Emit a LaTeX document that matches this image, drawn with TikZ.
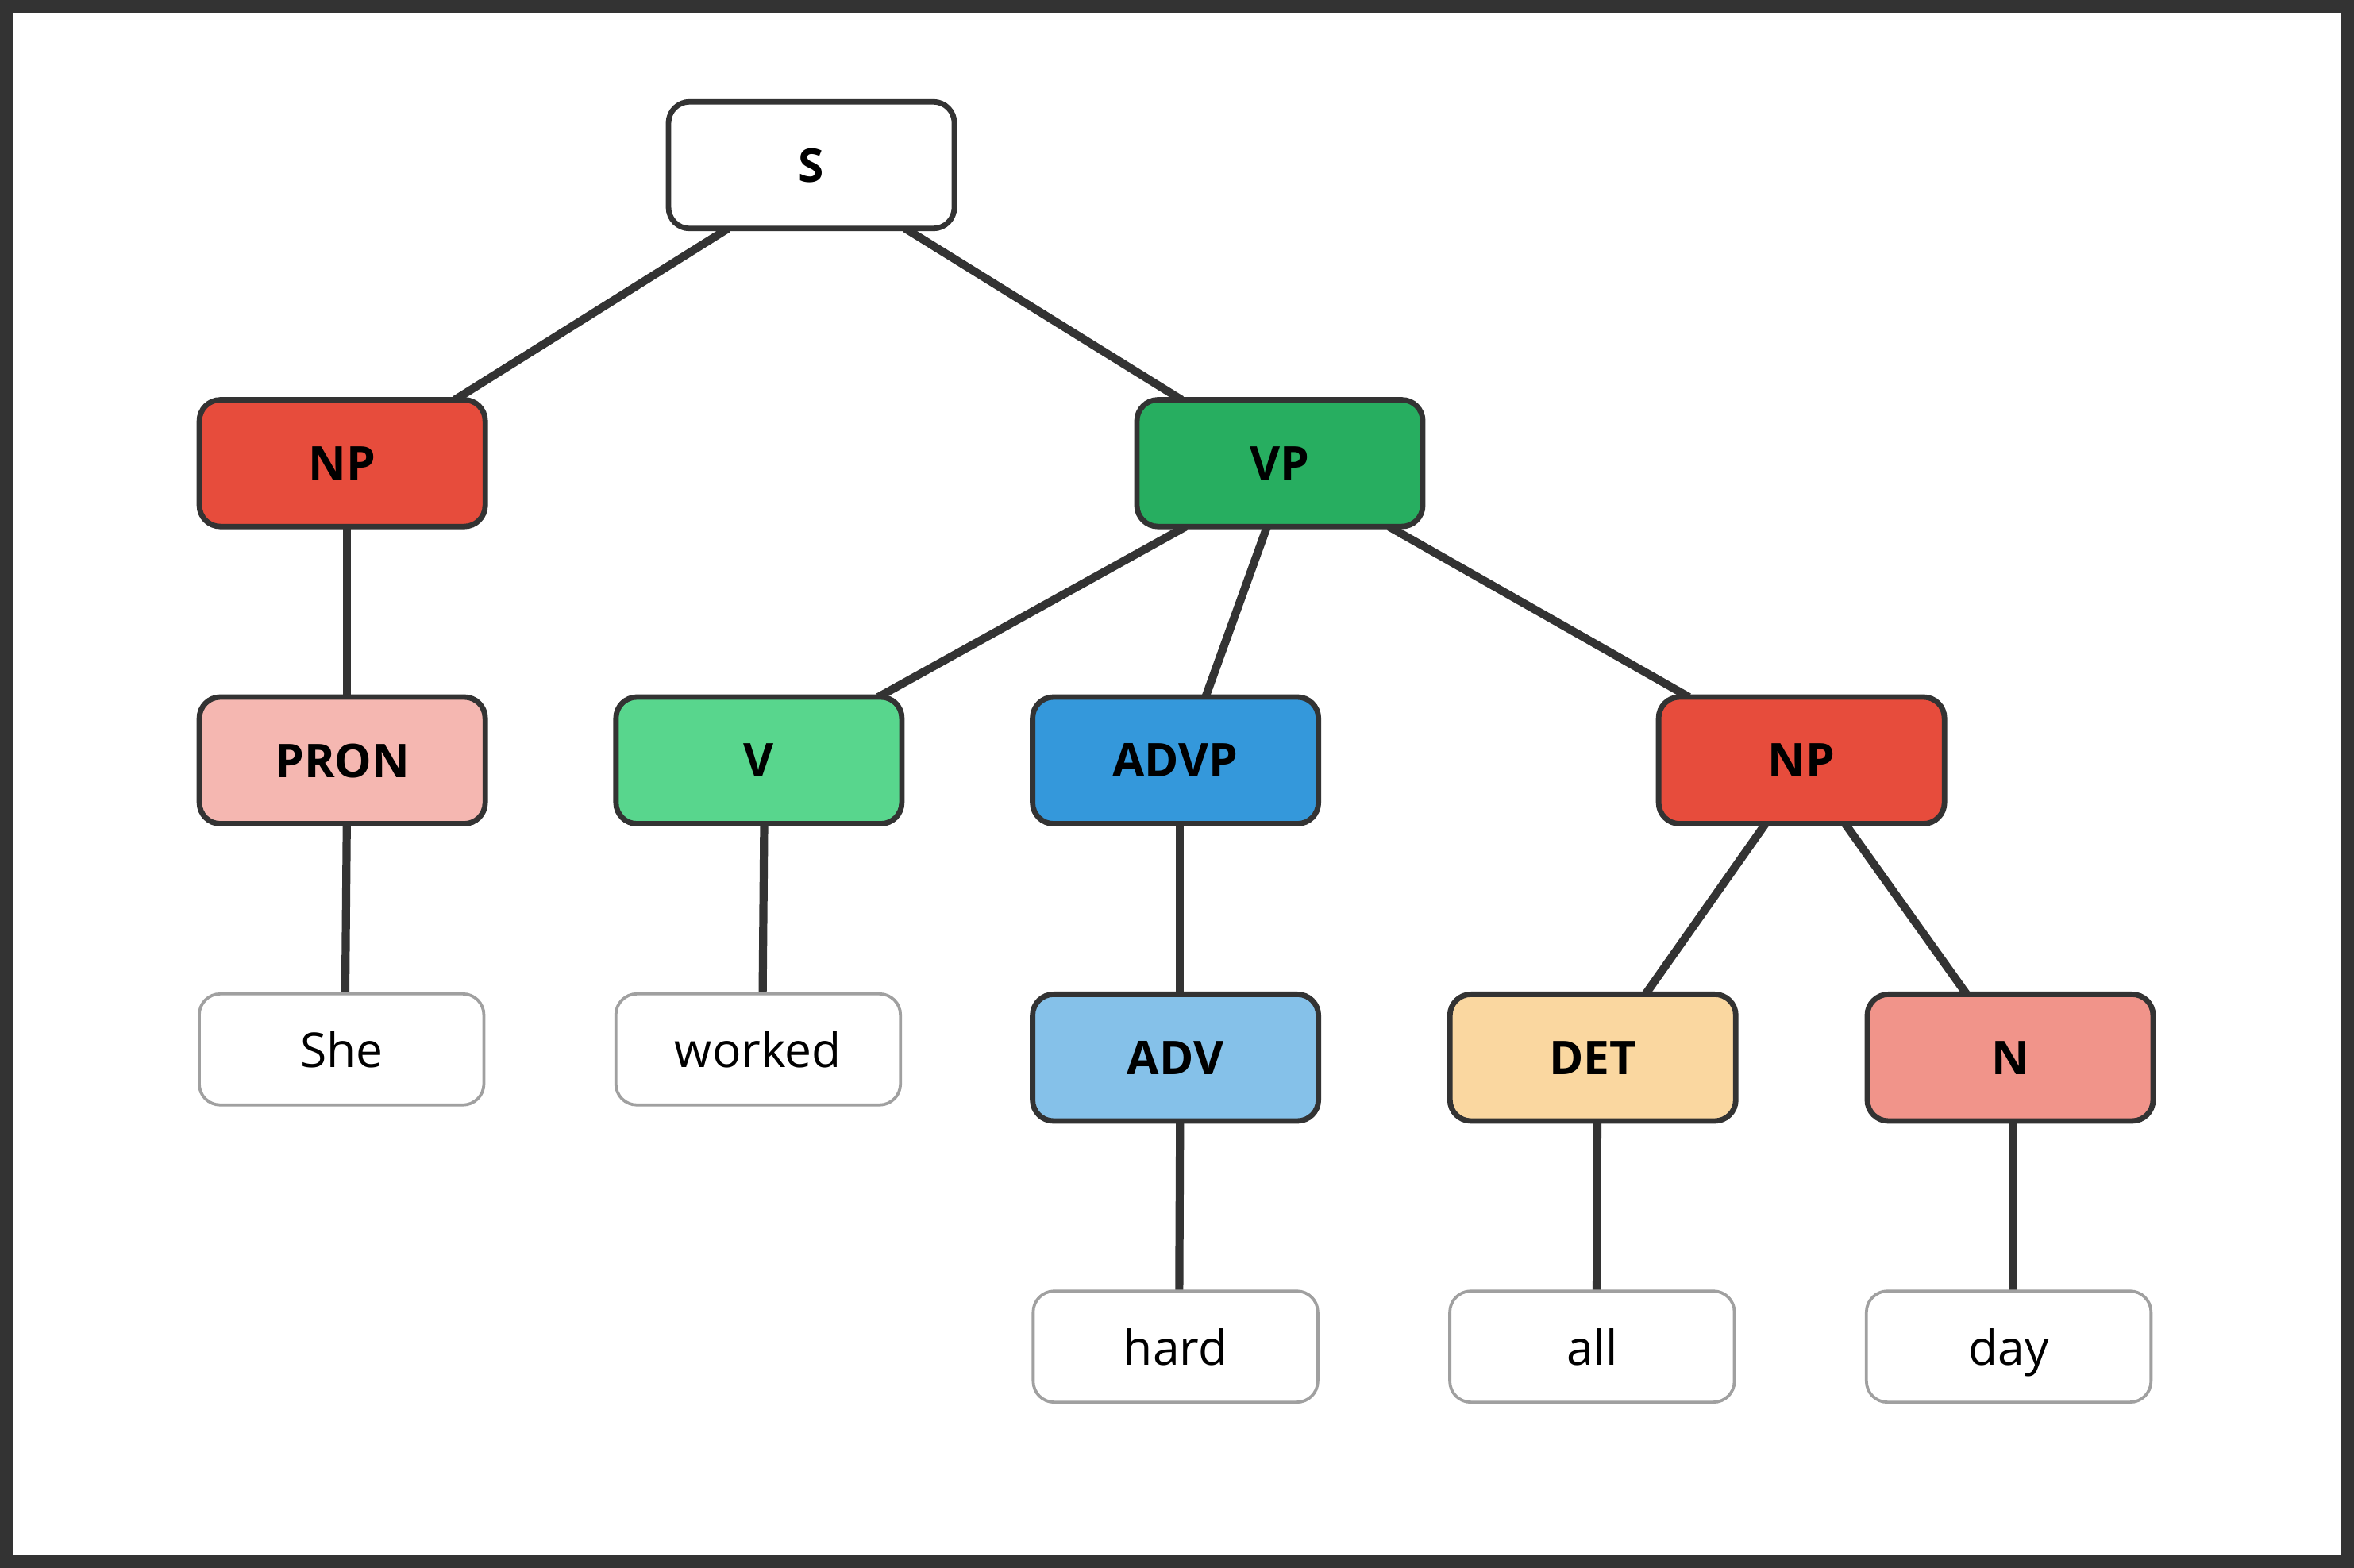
\documentclass[tikz,border=0pt]{standalone}
\usepackage{fontspec}
\setmainfont{Open Sans}
\usetikzlibrary{calc}
\pgfdeclarelayer{paper}
\pgfdeclarelayer{edges}
\pgfsetlayers{paper,edges,main}
\definecolor{linec}{HTML}{333333}
\definecolor{wordc}{HTML}{A0A0A0}
\definecolor{npc}{HTML}{E74C3C}
\definecolor{vpc}{HTML}{27AE60}
\definecolor{pronc}{HTML}{F5B7B1}
\definecolor{vc}{HTML}{58D68D}
\definecolor{advpc}{HTML}{3498DB}
\definecolor{advc}{HTML}{85C1E9}
\definecolor{detc}{HTML}{FAD7A0}
\definecolor{nc}{HTML}{F1948A}
\begin{document}
\begin{tikzpicture}[x=0.5pt,y=-0.5pt,
  cat/.style={draw=linec, line width=1.8pt, rounded corners=7pt,
    minimum width=95.2pt, minimum height=42.2pt, inner sep=0pt, outer sep=0pt,
    text depth=0pt, font=\fontsize{15.5}{18}\selectfont\bfseries},
  word/.style={draw=wordc, line width=1pt, fill=white, rounded corners=7pt,
    minimum width=94.8pt, minimum height=37pt, inner sep=0pt, outer sep=0pt,
    text depth=0pt, font=\fontsize{16}{19}\selectfont},
  edge/.style={draw=linec, line width=2.7pt}]
\useasboundingbox (0,0) rectangle (1568,1044.3);
\begin{pgfonlayer}{paper}
\fill[white] (0,0) rectangle (1568,1044.3);
\draw[line width=4.25pt, draw=linec] (4.25,4.25) rectangle (1563.75,1040.05);
\end{pgfonlayer}

\node[cat, fill=white] (S) at (540.5,110) {S};
\node[cat, fill=npc] (NPa) at (228,308.5) {NP};
\node[cat, fill=vpc] (VP) at (852.5,308.5) {VP};
\node[cat, fill=pronc] (PRON) at (228,506.5) {PRON};
\node[cat, fill=vc] (V) at (505.5,506.5) {V};
\node[cat, fill=advpc] (ADVP) at (783,506.5) {ADVP};
\node[cat, fill=npc] (NPb) at (1200,506.5) {NP};
\node[word] (She) at (227.5,699) {She};
\node[word] (worked) at (505,699) {worked};
\node[cat, fill=advc] (ADV) at (783,704.5) {ADV};
\node[cat, fill=detc] (DET) at (1061,704.5) {DET};
\node[cat, fill=nc] (N) at (1339,704.5) {N};
\node[word] (hard) at (783,897) {hard};
\node[word] (all) at (1060.5,897) {all};
\node[word] (day) at (1338,897) {day};

\begin{pgfonlayer}{edges}
\draw[edge] ($(S.south)+(-55.5,0)$) -- ($(NPa.north)+(75,0)$);
\draw[edge] ($(S.south)+(62.5,0)$) -- ($(VP.north)+(-65.5,0)$);
\draw[edge] ($(NPa.south)+(3,0)$) -- ($(PRON.north)+(3,0)$);
\draw[edge] ($(VP.south)+(-62.5,0)$) -- ($(V.north)+(79.5,0)$);
\draw[edge] ($(VP.south)+(-8.5,0)$) -- ($(ADVP.north)+(20,0)$);
\draw[edge] ($(VP.south)+(72.5,0)$) -- ($(NPb.north)+(-75,0)$);
\draw[edge] ($(PRON.south)+(3,0)$) -- ($(She.north)+(2.5,0)$);
\draw[edge] ($(V.south)+(3.5,0)$) -- ($(worked.north)+(3,0)$);
\draw[edge] ($(ADVP.south)+(3,0)$) -- ($(ADV.north)+(3,0)$);
\draw[edge] ($(ADV.south)+(3,0)$) -- ($(hard.north)+(2.5,0)$);
\draw[edge] ($(NPb.south)+(-24,0)$) -- ($(DET.north)+(35,0)$);
\draw[edge] ($(NPb.south)+(29,0)$) -- ($(N.north)+(-29,0)$);
\draw[edge] ($(DET.south)+(3,0)$) -- ($(all.north)+(3,0)$);
\draw[edge] ($(N.south)+(2,0)$) -- ($(day.north)+(3,0)$);
\end{pgfonlayer}
\end{tikzpicture}
\end{document}
